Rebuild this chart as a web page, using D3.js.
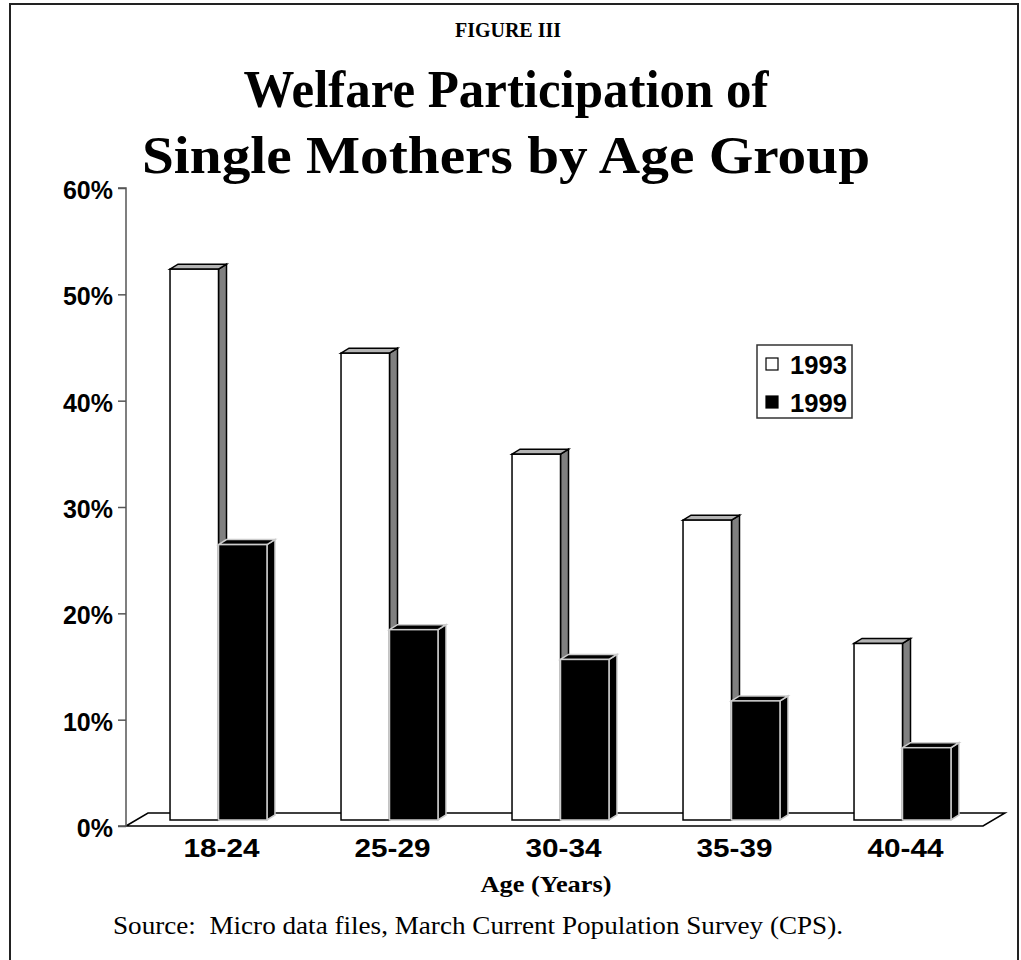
<!DOCTYPE html>
<html>
<head>
<meta charset="utf-8">
<script src="https://cdn.jsdelivr.net/npm/d3@7"></script>
<style>
  body { margin: 0; background: #fff; }
</style>
</head>
<body>
<svg id="chart" width="1021" height="960"></svg>
<script>
const ageGroups = ["18-24", "25-29", "30-34", "35-39", "40-44"]
const seriesNames = ["1993", "1999"]
const values1993 = [51.8, 43.9, 34.4, 28.2, 16.6]
const values1999 = [25.9, 17.9, 15.1, 11.2, 6.8]
const yTicks = [0, 10, 20, 30, 40, 50, 60]

const svg = d3.select("#chart")
const sans = "Arial, 'Liberation Sans', sans-serif"
const serif = "'Times New Roman', 'Liberation Serif', serif"

// frame
svg.append("rect")
    .attr("x", 10).attr("y", 4)
    .attr("width", 1008).attr("height", 1000)
    .attr("fill", "none")
    .style("stroke", "#222")
    .attr("stroke-width", 2)

const yScale = d3.scaleLinear().domain([0, 60]).range([826, 188])
const xGroup = d3.scaleBand().domain(ageGroups).range([133, 988]).paddingInner(0.433).paddingOuter(0.2165)
const xSeries = d3.scaleBand().domain(seriesNames).range([0, xGroup.bandwidth()])

const dx = 8, dy = -5          // bar depth
const floorDx = 22, floorDy = -13
const barShiftY = -6

// floor
svg.append("path")
    .attr("d", d3.line()([
        [126, yScale(0)],
        [126 + floorDx, yScale(0) + floorDy],
        [1005, yScale(0) + floorDy],
        [1005 - floorDx, yScale(0)]
    ]) + "Z")
    .attr("fill", "#fff")
    .style("stroke", "black")
    .attr("stroke-width", 1.5)

// y axis
const yAxis = d3.axisLeft(yScale).tickValues(yTicks).tickSize(8).tickFormat(d => d + "%")
const gy = svg.append("g").attr("transform", "translate(126,0)").call(yAxis)
gy.select(".domain").style("stroke", "#555").attr("stroke-width", 1.5).attr("d", "M-8," + yScale(60) + "H0V" + yScale(0) + "H-8")
gy.selectAll(".tick line").style("stroke", "#555").attr("stroke-width", 1.5)
gy.selectAll(".tick text")
    .attr("x", -13)
    .attr("dy", "0.42em")
    .style("font-family", sans)
    .style("font-weight", "bold")
    .style("font-size", "25px")
    .style("fill", "#000")

const drawBar = (x0, w, v, color) => {
    const yb = yScale(0) + barShiftY
    const yt = yb - (yScale(0) - yScale(v))
    const x1 = x0 + w
    const edge = color === "white" ? "black" : "#ccc"
    const sideFill = color === "white" ? "#808080" : "black"
    const topFill = color === "white" ? "#b4b4b4" : "black"
    // side face
    svg.append("path")
        .attr("d", d3.line()([[x1, yt], [x1 + dx, yt + dy], [x1 + dx, yb + dy], [x1, yb]]) + "Z")
        .attr("fill", sideFill)
        .style("stroke", edge)
        .attr("stroke-width", 1.5)
    // top face
    svg.append("path")
        .attr("d", d3.line()([[x0, yt], [x0 + dx, yt + dy], [x1 + dx, yt + dy], [x1, yt]]) + "Z")
        .attr("fill", topFill)
        .style("stroke", edge)
        .attr("stroke-width", 1.5)
    // front face
    svg.append("rect")
        .attr("x", x0).attr("y", yt)
        .attr("width", w).attr("height", yb - yt)
        .attr("fill", color)
        .style("stroke", edge)
        .attr("stroke-width", 1.5)
}

ageGroups.forEach((g, i) => {
    drawBar(xGroup(g) + xSeries("1993"), xSeries.bandwidth(), values1993[i], "white")
    drawBar(xGroup(g) + xSeries("1999"), xSeries.bandwidth(), values1999[i], "black")
})

// category labels
svg.selectAll(".cat")
    .data(ageGroups)
    .enter()
    .append("text")
    .attr("x", d => xGroup(d) + xGroup.bandwidth() / 2 + 3)
    .attr("y", 857)
    .style("text-anchor", "middle")
    .style("font-family", sans)
    .style("font-weight", "bold")
    .style("font-size", "25px")
    .attr("textLength", 76)
    .attr("lengthAdjust", "spacingAndGlyphs")
    .text(d => d)

// legend
svg.append("rect")
    .attr("x", 757).attr("y", 345)
    .attr("width", 95).attr("height", 73)
    .attr("fill", "#fff")
    .style("stroke", "#333")
    .attr("stroke-width", 1.5)
seriesNames.forEach((s, i) => {
    svg.append("rect")
        .attr("x", 766).attr("y", 358 + i * 38)
        .attr("width", 12).attr("height", 12)
        .attr("fill", i === 0 ? "white" : "black")
        .style("stroke", "black")
        .attr("stroke-width", 1.2)
    svg.append("text")
        .attr("x", 790).attr("y", 374 + i * 38)
        .style("font-family", sans)
        .style("font-weight", "bold")
        .style("font-size", "25px")
        .attr("textLength", 57)
        .attr("lengthAdjust", "spacingAndGlyphs")
        .text(s)
})

// titles
svg.append("text")
    .attr("x", 508).attr("y", 37)
    .style("text-anchor", "middle")
    .style("font-family", serif)
    .style("font-weight", "bold")
    .style("font-size", "20px")
    .text("FIGURE III")
svg.append("text")
    .attr("x", 506).attr("y", 107)
    .style("text-anchor", "middle")
    .style("font-family", serif)
    .style("font-weight", "bold")
    .style("font-size", "52px")
    .attr("textLength", 525)
    .attr("lengthAdjust", "spacingAndGlyphs")
    .text("Welfare Participation of")
svg.append("text")
    .attr("x", 506).attr("y", 173)
    .style("text-anchor", "middle")
    .style("font-family", serif)
    .style("font-weight", "bold")
    .style("font-size", "52px")
    .attr("textLength", 728)
    .attr("lengthAdjust", "spacingAndGlyphs")
    .text("Single Mothers by Age Group")

svg.append("text")
    .attr("x", 546).attr("y", 892)
    .style("text-anchor", "middle")
    .style("font-family", serif)
    .style("font-weight", "bold")
    .style("font-size", "24px")
    .attr("textLength", 131)
    .attr("lengthAdjust", "spacingAndGlyphs")
    .text("Age (Years)")
svg.append("text")
    .attr("x", 113).attr("y", 934)
    .style("font-family", serif)
    .style("font-size", "25px")
    .style("white-space", "pre")
    .attr("textLength", 730)
    .attr("lengthAdjust", "spacingAndGlyphs")
    .text("Source:  Micro data files, March Current Population Survey (CPS).")
</script>
</body>
</html>
